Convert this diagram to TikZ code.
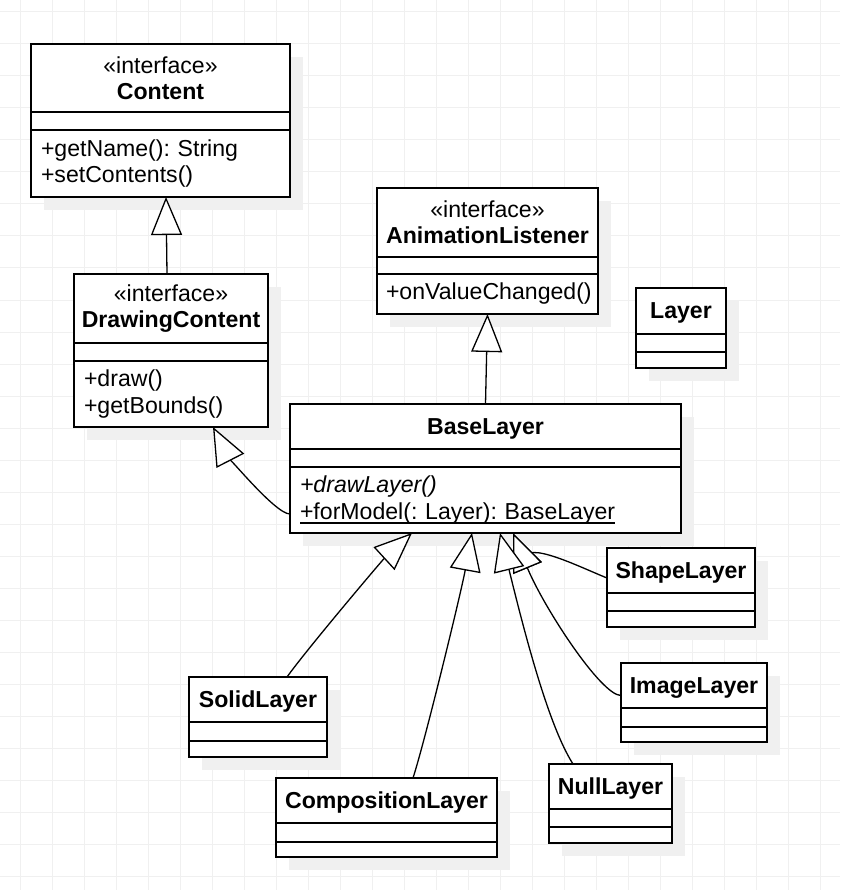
\documentclass[tikz,border=0pt]{standalone}
\usepackage{fontspec}
\setmainfont{Liberation Sans}
\usetikzlibrary{arrows.meta,positioning,shadows}
\frenchspacing
\newcommand{\undl}[1]{\leavevmode\setbox0\hbox{#1}\rlap{\rule[-4.5pt]{\wd0}{1.2pt}}\box0}

\begin{document}
\begin{tikzpicture}[x=1pt, y=-1pt,
  font=\fontsize{23.1}{26.2}\selectfont,
  cls/.style={draw, fill=white, line width=1.6pt, outer sep=0pt, inner sep=0pt, minimum width=#1,
    drop shadow={shadow xshift=13pt, shadow yshift=-13pt, opacity=1, fill=black!6}},
  head/.style={cls=#1, align=center, anchor=north west},
  title/.style={head=#1, text depth=0pt},
  ops/.style={cls=#1, align=left, inner xsep=10pt},
  gen/.style={-{Triangle[length=38pt, width=31pt, fill=white]}, line width=1.3pt},
  tw/.style 2 args={to path={.. controls #1 and #2 .. (\tikztotarget) \tikztonodes}},
  gridln/.style={black!6, line width=1pt}]
  \useasboundingbox (0,0) rectangle (840,890);
  \foreach \x in {20,52,...,820} \draw[gridln] (\x,0) -- (\x,890);
  \foreach \y in {12,44,...,876} \draw[gridln] (0,\y) -- (840,\y);

  \node[head=259pt, minimum height=68pt] (cnt) at (31,44) {«interface»\\\textbf{Content}};
  \node[cls=259pt, minimum height=18pt, below=0pt of cnt] (cnt-a) {};
  \node[ops=259pt, text width=239pt, minimum height=67pt, below=0pt of cnt-a] (cnt-o) {+getName(): String\\+setContents()};

  \node[head=194pt, minimum height=69pt] (dc) at (74,274) {«interface»\\\textbf{DrawingContent}};
  \node[cls=194pt, minimum height=18pt, below=0pt of dc] (dc-a) {};
  \node[ops=194pt, text width=174pt, minimum height=66pt, below=0pt of dc-a] (dc-o) {+draw()\\+getBounds()};

  \node[head=221pt, minimum height=69pt] (al) at (377,188) {«interface»\\\textbf{AnimationListener}};
  \node[cls=221pt, minimum height=17pt, below=0pt of al] (al-a) {};
  \node[ops=221pt, text width=203pt, inner xsep=9pt, minimum height=40pt, below=0pt of al-a] (al-o) {+onValueChanged()};

  \node[title=90pt, minimum height=46pt] (lay) at (636,288) {\textbf{Layer}};
  \node[cls=90pt, minimum height=18pt, below=0pt of lay] (lay-a) {};
  \node[cls=90pt, minimum height=16pt, below=0pt of lay-a] (lay-o) {};

  \node[title=391pt, minimum height=45pt] (bl) at (290,404) {\textbf{BaseLayer}};
  \node[cls=391pt, minimum height=18pt, below=0pt of bl] (bl-a) {};
  \node[ops=391pt, text width=371pt, minimum height=66pt, below=0pt of bl-a] (bl-o) {\textit{+drawLayer()}\\\undl{+forModel(: Layer): BaseLayer}};

  \node[title=148pt, minimum height=45pt] (sh) at (607,548) {\textbf{ShapeLayer}};
  \node[cls=148pt, minimum height=18pt, below=0pt of sh] (sh-a) {};
  \node[cls=148pt, minimum height=16pt, below=0pt of sh-a] (sh-o) {};

  \node[title=146pt, minimum height=45pt] (img) at (621,663) {\textbf{ImageLayer}};
  \node[cls=146pt, minimum height=19pt, below=0pt of img] (img-a) {};
  \node[cls=146pt, minimum height=15pt, below=0pt of img-a] (img-o) {};

  \node[title=123pt, minimum height=45pt] (nul) at (549,764) {\textbf{NullLayer}};
  \node[cls=123pt, minimum height=18pt, below=0pt of nul] (nul-a) {};
  \node[cls=123pt, minimum height=16pt, below=0pt of nul-a] (nul-o) {};

  \node[title=138pt, minimum height=45pt] (sol) at (189,677) {\textbf{SolidLayer}};
  \node[cls=138pt, minimum height=19pt, below=0pt of sol] (sol-a) {};
  \node[cls=138pt, minimum height=16pt, below=0pt of sol-a] (sol-o) {};

  \node[title=221pt, minimum height=45pt] (comp) at (276,778) {\textbf{CompositionLayer}};
  \node[cls=221pt, minimum height=19pt, below=0pt of comp] (comp-a) {};
  \node[cls=221pt, minimum height=15pt, below=0pt of comp-a] (comp-o) {};

  \path[gen]
    ([xshift=-4pt]dc.north) edge ([xshift=5.5pt]cnt-o.south)
    (bl.north) edge (al-o.south)
    ([yshift=-14pt]bl-o.west) edge[tw={+(-15,0)}{+(13.7,26.7)}] ([xshift=42pt]dc-o.south)
    ([xshift=29pt]sol.north) edge[tw={+(20,-28)}{+(-29.5,27)}] ([xshift=-73.5pt]bl-o.south)
    ([xshift=26.5pt]comp.north) edge[tw={+(12,-37)}{+(-10.8,59)}] ([xshift=-13.5pt]bl-o.south)
    ([yshift=-7.5pt]sh.west) edge[tw={+(-32,-13)}{+(0.38,0.92)}] ([xshift=27.5pt]bl-o.south)
    ([yshift=-10pt]img.west) edge[tw={+(-20,0)}{+(30.5,74)}] ([xshift=27.5pt]bl-o.south)
    ([xshift=-37.5pt]nul.north) edge[tw={+(-25,-39)}{+(23.9,97.1)}] ([xshift=14.5pt]bl-o.south);
\end{tikzpicture}
\end{document}
